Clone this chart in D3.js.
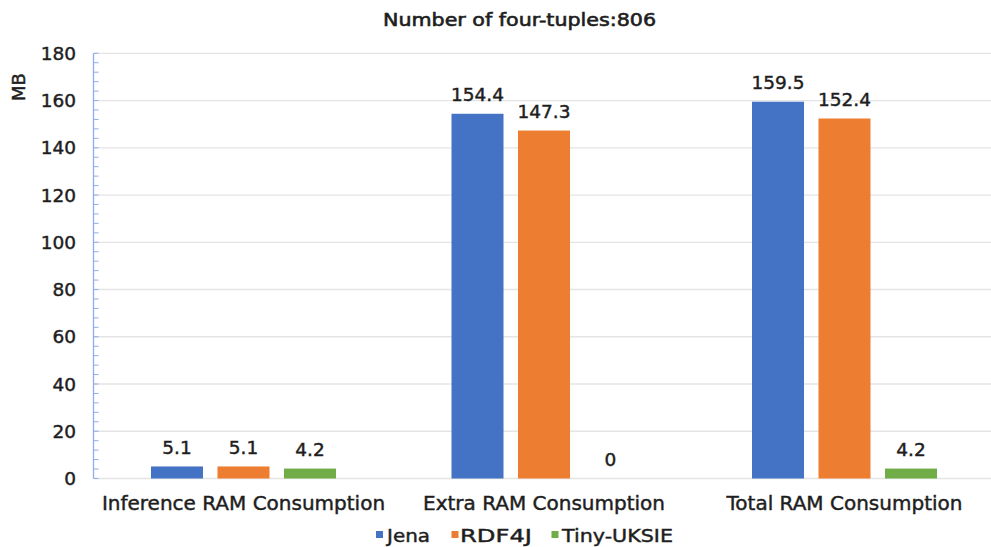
<!DOCTYPE html>
<html><head><meta charset="utf-8">
<script src="https://cdn.jsdelivr.net/npm/d3@7"></script>
<style>body{margin:0;background:#fff}svg{display:block}text{font-family:"DejaVu Sans","Liberation Sans",Arial,sans-serif;fill:#1e1e1e;stroke:#1e1e1e;stroke-width:0.45px}</style>
</head><body><svg id="c" width="991" height="547"></svg>
<script>
const categories = ["Inference RAM Consumption","Extra RAM Consumption","Total RAM Consumption"];
const seriesNames = ["Jena","RDF4J","Tiny-UKSIE"];
const jena = [5.1, 154.4, 159.5];
const rdf4j = [5.1, 147.3, 152.4];
const tiny = [4.2, 0, 4.2];
const yTicks = [0,20,40,60,80,100,120,140,160,180];
const colors = ["#4472C4","#ED7D31","#70AD47"];
const title = "Number of four-tuples:806";
const yLabel = "MB";

(function(){
const svg = d3.select("#c");
const mLeft = 93.25, mRight = 994.75, mTop = 53.3, mBottom = 478.5;
const values = [jena, rdf4j, tiny];

const x0 = d3.scaleBand().domain(categories).range([mLeft, mRight]).padding(0);
const bw = x0.bandwidth();
const x1 = d3.scaleBand().domain(seriesNames).range([57.75, 242.75]).paddingInner(0.218);
const y = d3.scaleLinear().domain([0,180]).range([mBottom, mTop]);

svg.append("g").selectAll("line").data(yTicks).join("line")
  .attr("x1", 93).attr("x2", 991)
  .attr("y1", d=>y(d)).attr("y2", d=>y(d))
  .attr("stroke", "#e4e4e4").attr("stroke-width", 1.3);

const minor = d3.range(0, 181, 4);
const ax = svg.append("g").attr("transform", `translate(93.5,0)`);
ax.append("line").attr("x1",0).attr("x2",0).attr("y1",y(180)).attr("y2",y(0)).attr("stroke","#8EAEE6").attr("stroke-width",1.3);
ax.selectAll("line.m").data(minor).join("line").attr("class","m")
  .attr("x1",0).attr("x2",5).attr("y1",d=>y(d)).attr("y2",d=>y(d))
  .attr("stroke","#8EAEE6").attr("stroke-width",1);

svg.append("g").selectAll("text").data(yTicks).join("text")
  .attr("x", 76).attr("y", d=>y(d)).attr("dy","0.36em")
  .attr("text-anchor","end").attr("font-size",18.5)
  .text(d=>d);

const groups = svg.append("g").selectAll("g").data(categories).join("g")
  .attr("transform", d=>`translate(${x0(d)},0)`);
groups.selectAll("rect").data((c,i)=>seriesNames.map((s,j)=>({s, v: values[j][i], j})))
  .join("rect")
  .attr("x", d=>x1(d.s)).attr("width", x1.bandwidth())
  .attr("y", d=>y(d.v)).attr("height", d=>y(0)-y(d.v))
  .attr("fill", d=>colors[d.j]);
groups.selectAll("text").data((c,i)=>seriesNames.map((s,j)=>({s, v: values[j][i], j})))
  .join("text")
  .attr("x", d=>x1(d.s)+x1.bandwidth()/2).attr("y", d=>y(d.v)-12.5)
  .attr("text-anchor","middle").attr("font-size",18.5)
  .text(d=>d.v);

svg.append("g").selectAll("text").data(categories).join("text")
  .attr("x", d=>x0(d)+bw/2).attr("y", 510)
  .attr("text-anchor","middle").attr("font-size",20)
  .text(d=>d);

svg.append("text").attr("x", 383).attr("y", 26)
  .attr("font-size",17.5).style("stroke-width","0.6px")
  .attr("textLength",273).attr("lengthAdjust","spacingAndGlyphs").text(title);

svg.append("text").attr("transform","translate(25,87) rotate(-90)")
  .attr("text-anchor","middle").attr("font-size",18).text(yLabel);

const legSq = [376, 451.5, 551.5];
const legTx = [387, 460, 562];
const legW = [43, 72, 111];
const leg = svg.append("g").selectAll("g").data(seriesNames).join("g");
leg.append("rect").attr("x",(d,i)=>legSq[i]).attr("y",531).attr("width",7).attr("height",7).attr("fill",(d,i)=>colors[i]);
leg.append("text").attr("x",(d,i)=>legTx[i]).attr("y",541.5).attr("font-size",18.5)
  .attr("textLength",(d,i)=>legW[i]).attr("lengthAdjust","spacingAndGlyphs").text(d=>d);
})();
</script></body></html>
